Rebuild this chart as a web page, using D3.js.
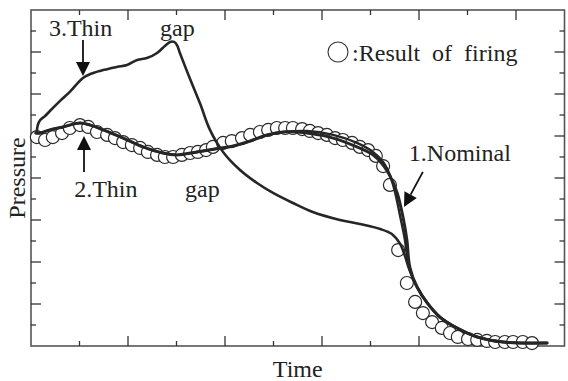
<!DOCTYPE html>
<html>
<head>
<meta charset="utf-8">
<script src="https://cdn.jsdelivr.net/npm/d3@7"></script>
<style>
  html, body { margin: 0; padding: 0; background: #fff; }
  svg { display: block; }
</style>
</head>
<body>
<svg id="chart" width="568" height="381"></svg>
<script>
// Time axis runs 0..11 divisions, pressure axis 0..16 divisions (arbitrary units)
const xTicks = d3.range(0, 12);
const yTicks = d3.range(0, 17);

// 1. Nominal
const nominalT = [0.10, 0.19, 0.39, 0.66, 1.01, 1.22, 1.49, 1.90, 2.31, 2.72, 3.01, 3.42, 3.79, 4.17, 4.52, 4.87, 5.20, 5.69, 6.23, 6.72, 7.05, 7.26, 7.40, 7.55, 7.67, 7.75, 7.81, 7.96, 8.17, 8.43, 8.78, 9.20, 9.73, 10.64];
const nominalP = [10.14, 10.14, 10.29, 10.43, 10.62, 10.52, 10.29, 9.90, 9.48, 9.19, 9.10, 9.24, 9.38, 9.52, 9.76, 10.05, 10.19, 10.14, 9.90, 9.48, 9.10, 8.62, 8.10, 7.29, 6.14, 5.05, 3.76, 2.81, 2.05, 1.38, 0.86, 0.43, 0.19, 0.14];

// 2. Thin gap (slightly earlier fall than nominal)
const thin2T = [0.10, 0.19, 0.39, 0.66, 1.01, 1.22, 1.49, 1.90, 2.31, 2.72, 3.01, 3.42, 3.79, 4.17, 4.52, 4.87, 5.20, 5.69, 6.23, 6.72, 7.05, 7.26, 7.40, 7.50, 7.61, 7.71, 7.79, 7.96, 8.17, 8.43, 8.78, 9.20, 9.73, 10.64];
const thin2P = [10.14, 10.14, 10.29, 10.43, 10.62, 10.52, 10.29, 9.90, 9.48, 9.19, 9.10, 9.24, 9.38, 9.52, 9.76, 10.05, 10.19, 10.24, 10.05, 9.67, 9.24, 8.76, 8.14, 7.38, 6.19, 5.05, 3.76, 2.81, 2.05, 1.38, 0.86, 0.43, 0.19, 0.14];

// 3. Thin gap (early overshoot)
const thin3T = [0.12, 0.14, 0.19, 0.29, 0.39, 0.60, 0.80, 1.07, 1.22, 1.42, 1.77, 1.98, 2.19, 2.39, 2.60, 2.76, 2.87, 2.95, 3.01, 3.07, 3.28, 3.49, 3.69, 3.96, 4.31, 4.66, 4.99, 5.40, 5.81, 6.37, 6.78, 7.20, 7.44, 7.61, 7.71, 7.79, 7.96, 8.17, 8.43, 8.78, 9.20, 9.73, 10.64];
const thin3P = [10.19, 10.52, 10.76, 10.95, 11.19, 11.67, 12.10, 12.76, 12.95, 13.10, 13.29, 13.38, 13.62, 13.71, 13.95, 14.29, 14.48, 14.48, 14.33, 13.95, 12.71, 11.52, 10.29, 9.24, 8.38, 7.76, 7.29, 6.81, 6.38, 6.00, 5.81, 5.57, 5.33, 4.86, 4.29, 3.71, 2.81, 2.05, 1.38, 0.86, 0.43, 0.19, 0.14];

// Result of firing (measured)
const firingT = [0.12, 0.29, 0.45, 0.64, 0.80, 1.01, 1.18, 1.36, 1.57, 1.73, 1.90, 2.08, 2.25, 2.41, 2.60, 2.76, 2.93, 3.11, 3.28, 3.44, 3.61, 3.75, 3.96, 4.14, 4.35, 4.52, 4.72, 4.89, 5.07, 5.24, 5.40, 5.59, 5.75, 5.92, 6.10, 6.27, 6.43, 6.62, 6.78, 6.95, 7.11, 7.26, 7.40, 7.57, 7.75, 7.92, 8.08, 8.27, 8.47, 8.64, 8.80, 9.01, 9.20, 9.40, 9.57, 9.77, 9.94, 10.14, 10.33];
const firingP = [9.95, 9.81, 9.95, 10.14, 10.38, 10.52, 10.43, 10.19, 10.05, 9.90, 9.71, 9.57, 9.43, 9.24, 9.10, 9.00, 9.00, 9.10, 9.19, 9.24, 9.33, 9.48, 9.67, 9.76, 9.90, 10.05, 10.19, 10.29, 10.38, 10.38, 10.38, 10.33, 10.24, 10.14, 10.05, 9.90, 9.81, 9.67, 9.48, 9.33, 9.05, 8.57, 7.67, 4.57, 3.00, 2.10, 1.57, 1.14, 0.86, 0.62, 0.43, 0.33, 0.29, 0.24, 0.19, 0.19, 0.19, 0.19, 0.14];

// Text annotations and arrows, anchored in data units
const labels = [
  { text: "3.Thin", t: 0.37, p: 14.76 },
  { text: "gap", t: 2.66, p: 14.76 },
  { text: "2.Thin", t: 0.89, p: 7.10 },
  { text: "gap", t: 3.175, p: 7.10 },
  { text: "1.Nominal", t: 7.79, p: 8.81 }
];
const arrows = [
  { t1: 1.072, p1: 14.57, t2: 1.072, p2: 12.86 },
  { t1: 1.093, p1: 8.29, t2: 1.093, p2: 10.0 },
  { t1: 8.08, p1: 8.29, t2: 7.69, p2: 6.62 }
];
const legendMark = { t: 6.33, p: 14.0 };
const legendText = { text: ":Result  of  firing", t: 6.62, p: 13.57 };

const FONT = "'Liberation Serif', 'Times New Roman', Times, 'DejaVu Serif', serif";

const svg = d3.select("#chart");
const W = 568, H = 381;
const margin = { left: 31, top: 10, right: 3.5, bottom: 35 };
const x = d3.scaleLinear().domain([0, 11]).range([margin.left, W - margin.right]);
const y = d3.scaleLinear().domain([0, 16]).range([H - margin.bottom, margin.top]);

const tickLen = d => (d % 2 === 0 ? 10 : 5);
const ink = "#262626";

// Frame
svg.append("rect")
  .attr("x", x(0)).attr("y", y(16))
  .attr("width", x(11) - x(0)).attr("height", y(0) - y(16))
  .attr("fill", "none").attr("stroke", "#555").attr("stroke-width", 1.6);

// Inward ticks on all four sides
const tg = svg.append("g").attr("stroke", "#333").attr("stroke-width", 1.3);
xTicks.filter(d => d > 0 && d < 11).forEach(d => {
  tg.append("line").attr("x1", x(d)).attr("x2", x(d)).attr("y1", y(0)).attr("y2", y(0) - tickLen(d));
  tg.append("line").attr("x1", x(d)).attr("x2", x(d)).attr("y1", y(16)).attr("y2", y(16) + tickLen(d));
});
yTicks.filter(d => d > 0 && d < 16).forEach(d => {
  tg.append("line").attr("y1", y(d)).attr("y2", y(d)).attr("x1", x(0)).attr("x2", x(0) + tickLen(d));
  tg.append("line").attr("y1", y(d)).attr("y2", y(d)).attr("x1", x(11)).attr("x2", x(11) - tickLen(d));
});

// Measured points: white-filled circles, drawn under the curves
const firing = firingT.map((t, i) => ({ t, p: firingP[i] }));
svg.append("g").selectAll("circle").data(firing).join("circle")
  .attr("cx", d => x(d.t)).attr("cy", d => y(d.p)).attr("r", 6.5)
  .attr("fill", "#fff").attr("stroke", "#2a2a2a").attr("stroke-width", 1.2);

// Simulated curves
const line = d3.line().x(d => x(d.t)).y(d => y(d.p)).curve(d3.curveCatmullRom.alpha(0.5));
const series = [
  { T: thin3T, P: thin3P, w: 2.6 },
  { T: thin2T, P: thin2P, w: 2.4 },
  { T: nominalT, P: nominalP, w: 3 }
];
series.forEach(s => {
  const pts = s.T.map((t, i) => ({ t, p: s.P[i] }));
  svg.append("path").datum(pts).attr("d", line)
    .attr("fill", "none").attr("stroke", ink).attr("stroke-width", s.w)
    .attr("stroke-linejoin", "round").attr("stroke-linecap", "round");
});

// Arrows
arrows.forEach(a => {
  const x1 = x(a.t1), y1 = y(a.p1), x2 = x(a.t2), y2 = y(a.p2);
  const dx = x2 - x1, dy = y2 - y1, len = Math.hypot(dx, dy);
  const ux = dx / len, uy = dy / len, hl = 14, hw = 7;
  const bx = x2 - ux * hl, by = y2 - uy * hl;
  svg.append("line").attr("x1", x1).attr("y1", y1).attr("x2", bx).attr("y2", by)
    .attr("stroke", "#111").attr("stroke-width", 1.8);
  svg.append("path")
    .attr("d", `M${x2},${y2}L${bx - uy * hw},${by + ux * hw}L${bx + uy * hw},${by - ux * hw}Z`)
    .attr("fill", "#111");
});

const addText = (sel) => sel.attr("font-family", FONT).attr("font-size", 24).attr("fill", "#222");

// Annotations
labels.forEach(l => {
  addText(svg.append("text").attr("x", x(l.t)).attr("y", y(l.p))).text(l.text);
});

// Legend
svg.append("circle").attr("cx", x(legendMark.t)).attr("cy", y(legendMark.p)).attr("r", 10)
  .attr("fill", "#fff").attr("stroke", "#333").attr("stroke-width", 1.1);
addText(svg.append("text").attr("x", x(legendText.t)).attr("y", y(legendText.p)))
  .style("white-space", "pre").text(legendText.text);

// Axis titles
addText(svg.append("text").attr("x", (x(0) + x(11)) / 2).attr("y", 377)
  .attr("text-anchor", "middle")).text("Time");
addText(svg.append("text").attr("transform", `translate(25,${(y(0) + y(16)) / 2}) rotate(-90)`)
  .attr("text-anchor", "middle")).text("Pressure");
</script>
</body>
</html>
